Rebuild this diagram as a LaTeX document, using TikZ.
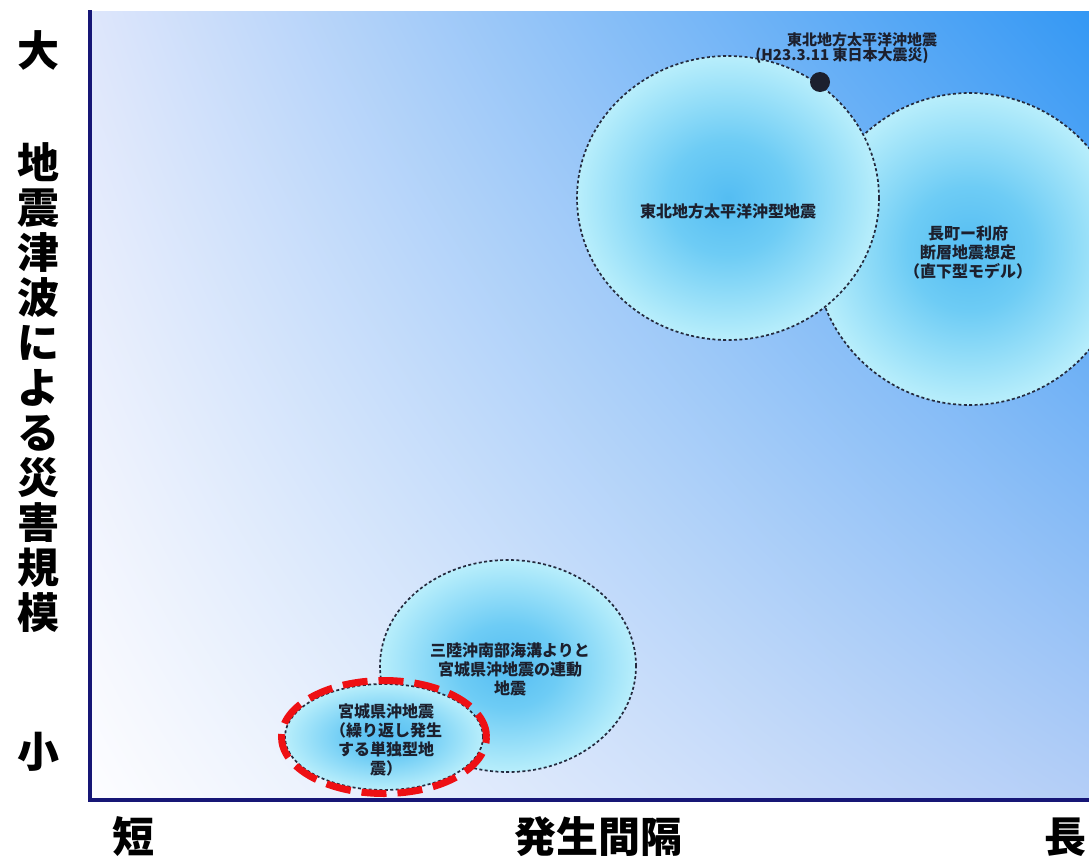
\documentclass[tikz,border=0pt]{standalone}
\usepackage{fontspec}
\setmainfont{Noto Sans CJK JP}
\usetikzlibrary{shapes.geometric,shadings}
\definecolor{axisblue}{RGB}{22,22,118}
\definecolor{bgUL}{RGB}{222,230,251}
\definecolor{bgUR}{RGB}{52,152,244}
\definecolor{bgLL}{RGB}{253,253,255}
\definecolor{bgLR}{RGB}{180,206,247}
\definecolor{rimgrey}{RGB}{36,42,62}
\definecolor{txtdark}{RGB}{28,32,46}
\definecolor{alertred}{RGB}{238,16,20}
\pgfdeclareradialshading{bubble}{\pgfpoint{0bp}{0bp}}{rgb(0bp)=(0.33,0.74,0.95); rgb(10bp)=(0.43,0.80,0.96); rgb(28bp)=(0.78,0.96,0.99); rgb(50bp)=(0.85,0.99,1.0)}
\tikzset{
  bubblenode/.style={ellipse, draw=rimgrey, line width=1.7pt, dash pattern=on 3pt off 2.4pt, shading=bubble, inner sep=0pt},
  smalltext/.style={text=txtdark, font=\fontsize{16}{19}\selectfont\bfseries, align=center, inner sep=0pt},
  axlab/.style={text=black, font=\fontsize{42}{45}\selectfont\bfseries, align=center, inner sep=0pt},
  axisline/.style={draw=axisblue, line width=4pt, line cap=rect}
}
\begin{document}
\begin{tikzpicture}[x=1pt,y=-1pt]
\useasboundingbox (0,0) rectangle (1089,859);
\coordinate (ytop) at (90,12);
\coordinate (origin) at (90,800);
\coordinate (xend) at (1089,800);
\begin{scope}
  \clip (90,12) rectangle (1089,800);
  \shade[upper left=bgUL, upper right=bgUR, lower left=bgLL, lower right=bgLR] (90,12) rectangle (1089,800);
  \node[bubblenode, minimum width=312pt, minimum height=312pt] (nagamachi) at (970,249) {};
  \node[bubblenode, minimum width=302pt, minimum height=284pt] (tohoku) at (728,198) {};
  \node[bubblenode, minimum width=256pt, minimum height=212pt] (sanriku) at (508,666) {};
  \node[bubblenode, minimum width=198pt, minimum height=106pt] (miyagi) at (384,737) {};
  \node[ellipse, draw=alertred, line width=7pt, dash pattern=on 25pt off 11pt, minimum width=205pt, minimum height=113pt, inner sep=0pt] (redring) at (384,737) {};
  \node[circle, fill=txtdark, minimum size=20pt, inner sep=0pt] (quakedot) at (820,82) {};
\end{scope}
\node[smalltext] (tohokuT) at (728,211) {東北地方太平洋沖型地震};
\node[smalltext] (nagamachiT) at (968,252) {長町ー利府\\断層地震想定\\（直下型モデル）};
\node[smalltext] (sanrikuT) at (510,669) {三陸沖南部海溝よりと\\宮城県沖地震の連動\\地震};
\node[smalltext] (miyagiT) at (386,740) {宮城県沖地震\\（繰り返し発生\\する単独型地\\震）};
\node[smalltext, font=\fontsize{15}{16}\selectfont\bfseries] (titleA) at (862,40) {東北地方太平洋沖地震};
\node[smalltext, font=\fontsize{15}{16}\selectfont\bfseries] (titleB) at (842,56) {(H23.3.11 東日本大震災)};
\draw[axisline] (ytop) -- (origin) -- (xend);
\node[axlab] (dai) at (38,50) {大};
\node[axlab] (ylab) at (38,388) {地\\震\\津\\波\\に\\よ\\る\\災\\害\\規\\模};
\node[axlab] (sho) at (38,752) {小};
\node[axlab] (tan) at (133,837) {短};
\node[axlab] (kankaku) at (598,837) {発生間隔};
\node[axlab] (naga) at (1065,837) {長};
\end{tikzpicture}
\end{document}
